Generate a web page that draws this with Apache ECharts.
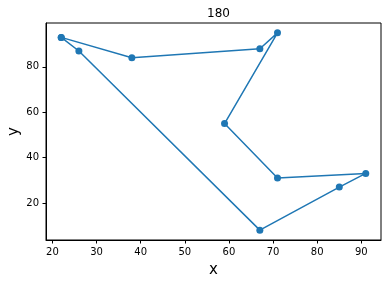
<!DOCTYPE html>
<html><head><meta charset="utf-8">
<script src="https://cdn.jsdelivr.net/npm/echarts@6/dist/echarts.min.js"></script>
<style>html,body{margin:0;padding:0;background:#fff}#c{width:391px;height:283px}</style>
</head><body><div id="c"></div>
<script>
const titleText = '180';
const xs = [22, 38, 67, 71, 59, 71, 91, 85, 67, 26, 22];
const ys = [93, 84, 88, 95, 55, 31, 33, 27, 8, 87, 93];
const xTicks = [20, 30, 40, 50, 60, 70, 80, 90];
const yTicks = [20, 40, 60, 80];

const data = xs.map((x, i) => [x, ys[i]]);
const xmin = Math.min(...xs), xmax = Math.max(...xs);
const ymin = Math.min(...ys), ymax = Math.max(...ys);
const xm = (xmax - xmin) * 0.05, ym = (ymax - ymin) * 0.05;
const font = 'DejaVu Sans';
const chart = echarts.init(document.getElementById('c'), null, {renderer: 'canvas'});
chart.setOption({
  animation: false,
  title: {text: titleText, left: 213.5, top: 3, textAlign: 'center',
    textStyle: {fontFamily: font, fontSize: 12, fontWeight: 'normal', color: '#000'}},
  grid: {left: 46, right: 10, top: 23, bottom: 43, show: true, borderColor: '#000', borderWidth: 1,
    containLabel: false, outerBoundsMode: 'none'},
  xAxis: {type: 'value', min: xmin - xm, max: xmax + xm, name: 'x', nameLocation: 'middle', nameGap: 23,
    nameMoveOverlap: false,
    nameTextStyle: {fontFamily: font, fontSize: 15, color: '#000'},
    axisLine: {show: true, onZero: false, lineStyle: {color: '#000', width: 1}},
    axisTick: {show: true, length: 3.5, customValues: xTicks, lineStyle: {color: '#000'}},
    axisLabel: {customValues: xTicks, margin: 7, fontFamily: font, fontSize: 10, color: '#000'},
    splitLine: {show: false}},
  yAxis: {type: 'value', min: ymin - ym, max: ymax + ym, name: 'y', nameLocation: 'middle', nameGap: 24,
    nameMoveOverlap: false,
    nameTextStyle: {fontFamily: font, fontSize: 15, color: '#000'},
    axisLine: {show: true, onZero: false, lineStyle: {color: '#000', width: 1}},
    axisTick: {show: true, length: 3.5, customValues: yTicks, lineStyle: {color: '#000'}},
    axisLabel: {customValues: yTicks, margin: 7, fontFamily: font, fontSize: 10, color: '#000'},
    splitLine: {show: false}},
  series: [{type: 'line', data: data, symbol: 'circle', symbolSize: 7,
    itemStyle: {color: '#1f77b4'}, lineStyle: {color: '#1f77b4', width: 1.5}}]
});
</script></body></html>
